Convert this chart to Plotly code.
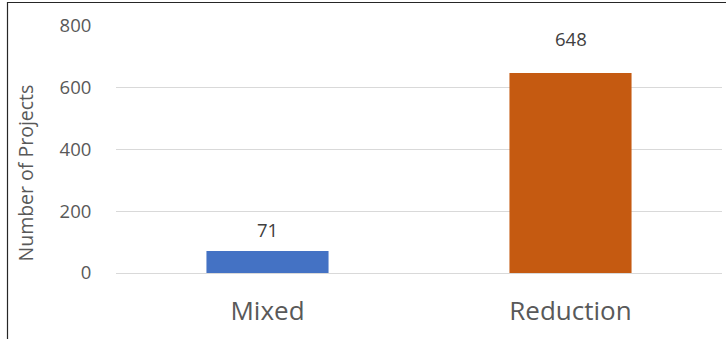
import plotly.graph_objects as go

# Project counts by approach
categories = ["Mixed", "Reduction"]
projects = [71, 648]
bar_colors = ["#4472C4", "#C55A11"]
y_ticks = [0, 200, 400, 600, 800]

W, H = 726, 339
margin = dict(l=116, r=4, t=26, b=66)
plot_w = W - margin["l"] - margin["r"]
plot_h = H - margin["t"] - margin["b"]
FONT = "Open Sans"

fig = go.Figure()
fig.add_trace(go.Bar(
    x=categories,
    y=projects,
    marker=dict(color=bar_colors, line=dict(width=0)),
    hoverinfo="x+y",
))

# value labels above each bar
label_shift = [7, 20]
for cat, val, dy in zip(categories, projects, label_shift):
    fig.add_annotation(
        x=cat, y=val, text=str(val), showarrow=False,
        yanchor="bottom", yshift=dy,
        font=dict(size=18.5, color="#404040", family=FONT),
    )

# y-axis title, centred on the full chart height
fig.add_annotation(
    xref="paper", yref="paper",
    x=(24.5 - margin["l"]) / plot_w, y=(H - 173 - margin["b"]) / plot_h,
    text="Number of Projects", textangle=-90, showarrow=False,
    xanchor="center", yanchor="middle",
    font=dict(size=19.5, color="#595959", family=FONT),
)

# frame lines on the left and top edges
def px_x(p):
    return (p - margin["l"]) / plot_w

def px_y(p):
    return (H - margin["b"] - p) / plot_h

fig.add_shape(type="line", xref="paper", yref="paper",
              x0=px_x(7.5), x1=px_x(7.5), y0=px_y(2), y1=px_y(H + 2),
              line=dict(color="#262626", width=1.2))
fig.add_shape(type="line", xref="paper", yref="paper",
              x0=px_x(7.5), x1=px_x(W + 2), y0=px_y(2.5), y1=px_y(2.5),
              line=dict(color="#262626", width=1.2))

fig.update_layout(
    width=W, height=H,
    margin=margin,
    paper_bgcolor="white",
    plot_bgcolor="white",
    bargap=0.597,
    showlegend=False,
    font=dict(family=FONT, color="#595959"),
)
fig.update_xaxes(
    showgrid=False, showline=False, zeroline=False,
    ticks="outside", ticklen=15, tickcolor="rgba(0,0,0,0)",
    tickfont=dict(size=26, color="#595959", family=FONT),
)
fig.update_yaxes(
    range=[0, 800], tickvals=y_ticks,
    showgrid=True, gridcolor="#D9D9D9", gridwidth=1.3,
    zeroline=True, zerolinecolor="#D9D9D9", zerolinewidth=1.3,
    showline=False,
    ticks="outside", ticklen=20, tickcolor="rgba(0,0,0,0)",
    tickfont=dict(size=18.5, color="#595959", family=FONT),
)

fig.write_html("out.html")
